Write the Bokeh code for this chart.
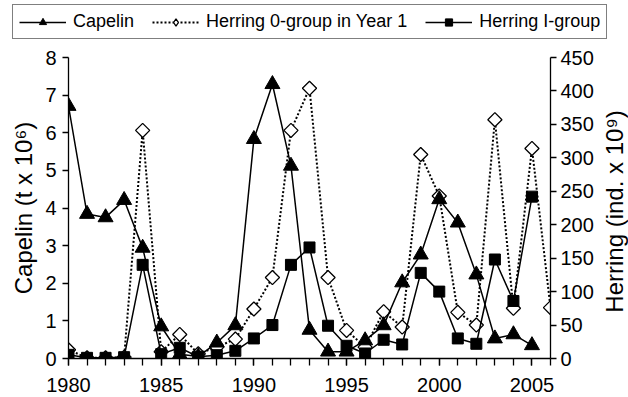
import math
from bokeh.plotting import figure
from bokeh.layouts import row
from bokeh.models import (Range1d, LinearAxis, FixedTicker, Legend, LegendItem, Label)
from bokeh.embed import file_html
from bokeh.resources import INLINE

years = list(range(1980, 2006))
years_h0 = list(range(1980, 2007))

capelin = [6.71, 3.84, 3.75, 4.21, 2.94, 0.85, 0.11, 0.05, 0.42, 0.88,
           5.83, 7.29, 5.12, 0.76, 0.18, 0.18, 0.48, 0.88, 2.02, 2.76,
           4.23, 3.61, 2.23, 0.53, 0.64, 0.35]
herring0 = [13, 1, 1, 2, 341, 10, 36, 7, 17, 29,
            74, 121, 341, 404, 121, 42, 17, 70, 47, 305,
            243, 69, 50, 357, 75, 314, 76]
herring1 = [5.5, 1, 1, 2, 140, 6.5, 16, 2.5, 5, 11.5,
            30, 50, 140, 166, 49, 19, 7.5, 28, 21, 128,
            100, 30, 22, 148, 86, 242]

series_names = ["Capelin", "Herring 0-group in Year 1", "Herring I-group"]
left_title = "Capelin (t x 10\u2076)"
right_title = "Herring (ind. x 10\u2079)"

FONT = "Liberation Sans"
TOP_H = 44
LAB_W = 30
MAIN_W = 628 - LAB_W
MAIN_H = 397 - TOP_H


def bare(fig):
    fig.axis.visible = False
    fig.grid.visible = False
    fig.outline_line_color = None
    fig.background_fill_color = "white"
    fig.border_fill_color = "white"


# ---------------- legend strip (its own root) ----------------
top = figure(width=628, height=TOP_H, output_backend="svg", toolbar_location=None,
             x_range=Range1d(0, 1), y_range=Range1d(0, 1),
             min_border_left=0, min_border_right=0,
             min_border_top=0, min_border_bottom=0)
bare(top)
# legend glyph renderers (data lie outside this strip's ranges)
dlc = top.line(years, capelin, line_color="black", line_width=1.5)
dmc = top.scatter(years, capelin, marker="triangle", size=12, fill_color="black",
                  line_color="black")
dl0 = top.line(years_h0, herring0, line_color="black", line_width=2, line_dash="2 2")
dm0 = top.scatter(years_h0, herring0, marker="diamond", size=12,
                  fill_color="white", line_color="black", line_width=1.3)
dl1 = top.line(years, herring1, line_color="black", line_width=1.5)
dm1 = top.scatter(years, herring1, marker="square", size=8, fill_color="black",
                  line_color="black")

legend = Legend(items=[
    LegendItem(label=series_names[0], renderers=[dlc, dmc]),
    LegendItem(label=series_names[1], renderers=[dl0, dm0]),
    LegendItem(label=series_names[2], renderers=[dl1, dm1]),
], orientation="horizontal", location=(12, 5))
legend.label_text_font = FONT
legend.label_text_font_size = "18px"
legend.label_text_color = "black"
legend.glyph_width = 47
legend.glyph_height = 18
legend.label_height = 18
legend.label_standoff = 7
legend.spacing = 18
legend.padding = 6
legend.margin = 0
legend.border_line_color = "black"
legend.border_line_width = 1.2
legend.background_fill_alpha = 1
top.add_layout(legend, "center")

# ---------------- main chart ----------------
p = figure(width=MAIN_W, height=MAIN_H, output_backend="svg", toolbar_location=None,
           x_range=Range1d(1980, 2006), y_range=Range1d(0, 8),
           min_border_left=68, min_border_right=MAIN_W - 550,
           min_border_top=57 - TOP_H, min_border_bottom=39)
p.outline_line_color = None
p.xgrid.visible = False
p.ygrid.visible = False
p.background_fill_color = "white"
p.border_fill_color = "white"

p.extra_y_ranges = {"h": Range1d(0, 450)}

p.line(years_h0, herring0, y_range_name="h", line_color="black",
       line_width=2, line_dash="2 2")
p.scatter(years_h0, herring0, y_range_name="h", marker="square", size=10,
          angle=45, angle_units="deg",
          fill_color="white", line_color="black", line_width=1.3)
p.line(years, capelin, line_color="black", line_width=1.5)
p.scatter(years, capelin, marker="triangle", size=15,
          fill_color="black", line_color="black")
p.line(years, herring1, y_range_name="h", line_color="black", line_width=1.5)
p.scatter(years, herring1, y_range_name="h", marker="square", size=11,
          fill_color="black", line_color="black")

xax = p.xaxis[0]
xax.ticker = FixedTicker(ticks=[1980, 1985, 1990, 1995, 2000, 2005],
                         minor_ticks=list(range(1980, 2007)))
xax.major_tick_out = 7
xax.major_tick_in = 0
xax.minor_tick_out = 7
xax.minor_tick_in = 0
xax.major_label_text_font = FONT
xax.major_label_text_font_size = "20px"
xax.major_label_text_color = "black"
xax.axis_line_width = 1.3
xax.major_tick_line_width = 1.3
xax.minor_tick_line_width = 1.3
xax.major_label_standoff = 12

yax = p.yaxis[0]
yax.ticker = FixedTicker(ticks=list(range(0, 9)))
yax.minor_tick_line_color = None
yax.major_tick_out = 6
yax.major_tick_in = 0
yax.axis_label = left_title
yax.axis_label_text_font = FONT
yax.axis_label_text_font_size = "24px"
yax.axis_label_text_font_style = "normal"
yax.axis_label_text_color = "black"
yax.major_label_text_font = FONT
yax.major_label_text_font_size = "20px"
yax.major_label_text_color = "black"
yax.major_label_standoff = 6
yax.axis_line_width = 1.3
yax.major_tick_line_width = 1.3
yax.axis_label_standoff = 5

rax = LinearAxis(y_range_name="h", ticker=FixedTicker(ticks=list(range(0, 451, 50))))
rax.minor_tick_line_color = None
rax.major_tick_out = 6
rax.major_tick_in = 0
rax.major_label_text_font = FONT
rax.major_label_text_font_size = "20px"
rax.major_label_text_color = "black"
rax.major_label_standoff = 4
rax.axis_line_width = 1.3
rax.major_tick_line_width = 1.3
p.add_layout(rax, "right")

# ---------------- right-hand axis title strip ----------------
lab = figure(width=LAB_W, height=MAIN_H, output_backend="svg", toolbar_location=None,
             x_range=Range1d(0, 1), y_range=Range1d(0, 1),
             min_border_left=0, min_border_right=0,
             min_border_top=57 - TOP_H, min_border_bottom=39)
bare(lab)
lab.add_layout(Label(x=16, y=147, x_units="screen", y_units="screen",
                     text=right_title, angle=90, angle_units="deg",
                     text_align="center", text_baseline="middle",
                     text_font=FONT, text_font_size="24px", text_color="black"))

open("out.html", "w").write(file_html([top, row(p, lab, spacing=0)], INLINE))
